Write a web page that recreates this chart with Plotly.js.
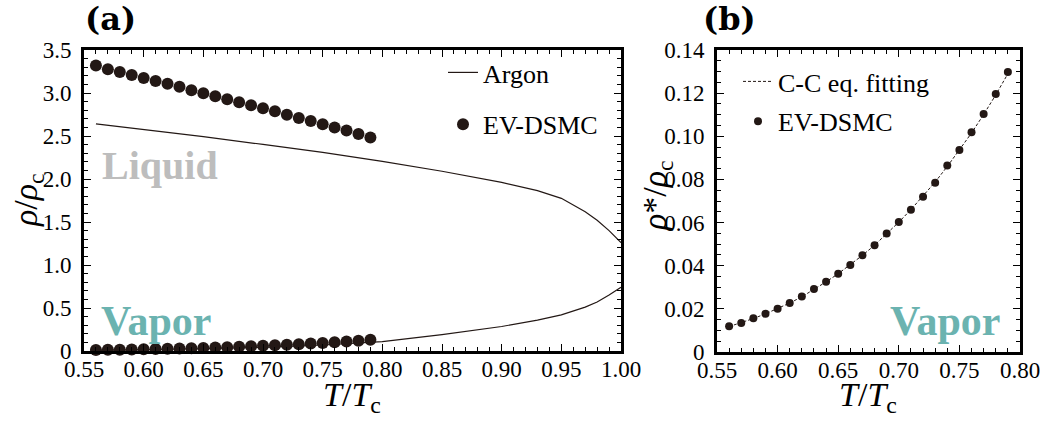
<!DOCTYPE html>
<html>
<head>
<meta charset="utf-8">
<script src="https://cdn.plot.ly/plotly-3.0.1.min.js"></script>
<style>
html,body{margin:0;padding:0;background:#fff;}
#chart{width:1043px;height:423px;}
</style>
</head>
<body>
<div id="chart"></div>
<script>
// ---- data ----
const T_dsmc = [0.56,0.57,0.58,0.59,0.60,0.61,0.62,0.63,0.64,0.65,0.66,0.67,0.68,0.69,0.70,0.71,0.72,0.73,0.74,0.75,0.76,0.77,0.78,0.79];
const rho_liq_dsmc = [3.320,3.275,3.245,3.210,3.175,3.140,3.107,3.072,3.033,2.998,2.963,2.928,2.893,2.858,2.823,2.788,2.746,2.710,2.675,2.637,2.599,2.563,2.523,2.482];
const rho_vap_dsmc = [0.0119,0.0134,0.0156,0.0177,0.0200,0.0227,0.0257,0.0292,0.0326,0.0363,0.0403,0.0449,0.0495,0.0549,0.0603,0.0659,0.0720,0.0785,0.0864,0.0937,0.1019,0.1103,0.1196,0.1298];

const T_argon = [0.56,0.60,0.65,0.70,0.75,0.80,0.85,0.90,0.93,0.95,0.96,0.97,0.98,0.99,1.00];
const rho_liq_argon = [2.640,2.578,2.492,2.402,2.310,2.205,2.090,1.960,1.865,1.775,1.700,1.620,1.520,1.400,1.260];
const rho_vap_argon = [0.008,0.014,0.026,0.043,0.070,0.110,0.190,0.285,0.360,0.420,0.462,0.510,0.570,0.650,0.740];

const T_fit = [0.56,0.57,0.58,0.59,0.60,0.61,0.62,0.63,0.64,0.65,0.66,0.67,0.68,0.69,0.70,0.71,0.72,0.73,0.74,0.75,0.76,0.77,0.78,0.79];
const rho_fit = [0.0118,0.0135,0.0155,0.0177,0.0201,0.0227,0.0256,0.0290,0.0325,0.0363,0.0404,0.0448,0.0495,0.0547,0.0602,0.0660,0.0722,0.0788,0.0860,0.0935,0.1015,0.1101,0.1192,0.1290];

const xTicksA = [0.55,0.60,0.65,0.70,0.75,0.80,0.85,0.90,0.95,1.00];
const xTickTextA = ['0.55','0.60','0.65','0.70','0.75','0.80','0.85','0.90','0.95','1.00'];
const yTicksA = [0,0.5,1.0,1.5,2.0,2.5,3.0,3.5];
const yTickTextA = ['0','0.5','1.0','1.5','2.0','2.5','3.0','3.5'];
const xTicksB = [0.55,0.60,0.65,0.70,0.75,0.80];
const xTickTextB = ['0.55','0.60','0.65','0.70','0.75','0.80'];
const yTicksB = [0,0.02,0.04,0.06,0.08,0.10,0.12,0.14];
const yTickTextB = ['0','0.02','0.04','0.06','0.08','0.10','0.12','0.14'];

// ---- styles ----
const DARK = '#231815';
const SERIF = 'Liberation Serif';
const W = 1043, H = 423;
const px = x => x / W;
const py = y => (H - y) / H;

const traces = [
  {x: T_argon, y: rho_liq_argon, xaxis:'x', yaxis:'y', mode:'lines', name:'Argon',
   line:{color:DARK, width:1.2}, legend:'legend', legendgroup:'a1'},
  {x: T_argon, y: rho_vap_argon, xaxis:'x', yaxis:'y', mode:'lines', showlegend:false,
   line:{color:DARK, width:1.2}, legendgroup:'a1'},
  {x: T_dsmc, y: rho_liq_dsmc, xaxis:'x', yaxis:'y', mode:'markers', name:'EV-DSMC',
   marker:{color:DARK, size:12}, legend:'legend', legendgroup:'a2', cliponaxis:false},
  {x: T_dsmc, y: rho_vap_dsmc, xaxis:'x', yaxis:'y', mode:'markers', showlegend:false,
   marker:{color:DARK, size:12}, legendgroup:'a2', cliponaxis:false},
  {x: T_fit, y: rho_fit, xaxis:'x2', yaxis:'y2', mode:'lines', name:'C-C eq. fitting',
   line:{color:DARK, width:1, dash:'3px,2px'}, legend:'legend2', legendgroup:'b1'},
  {x: T_dsmc, y: rho_vap_dsmc, xaxis:'x2', yaxis:'y2', mode:'markers', name:'EV-DSMC',
   marker:{color:DARK, size:8}, legend:'legend2', legendgroup:'b2', cliponaxis:false}
];

function axis(domain, range, tickvals, ticktext, minorDtick, anchor, standoff) {
  return {
    domain: domain, range: range, anchor: anchor,
    showline:true, linecolor:'#000', linewidth:3, mirror:'ticks',
    ticks:'inside', ticklen:7, tickwidth:1, tickcolor:'#000',
    tickmode:'array', tickvals:tickvals, ticktext:ticktext,
    minor:{ticks:'inside', ticklen:4, tickwidth:1, tickcolor:'#000', dtick:minorDtick, showgrid:false},
    showgrid:false, zeroline:false,
    tickfont:{family:SERIF, size:23, color:'#000'},
    ticklabelstandoff:standoff
  };
}

const layout = {
  width: W, height: H,
  margin:{l:0, r:0, t:0, b:0},
  paper_bgcolor:'#fff', plot_bgcolor:'#fff',
  font:{family:SERIF, color:'#000'},
  showlegend:true,
  xaxis: axis([px(84), px(621)], [0.55, 1.0], xTicksA, xTickTextA, 0.01, 'y', -5),
  yaxis: axis([py(351), py(50)], [0, 3.5], yTicksA, yTickTextA, 0.1, 'x', 5),
  xaxis2: axis([px(717), px(1020)], [0.55, 0.80], xTicksB, xTickTextB, 0.01, 'y2', -5),
  yaxis2: axis([py(352), py(50)], [0, 0.14], yTicksB, yTickTextB, 0.005, 'x2', 5),
  legend: {x: px(443), y: py(49), xanchor:'left', yanchor:'top', bgcolor:'rgba(0,0,0,0)',
           font:{family:SERIF, size:26, color:'#000'}, tracegroupgap:15, traceorder:'grouped'},
  legend2: {x: px(738), y: py(58), xanchor:'left', yanchor:'top', bgcolor:'rgba(0,0,0,0)',
           font:{family:SERIF, size:26, color:'#000'}, tracegroupgap:3, traceorder:'grouped'},
  annotations: [
    {text:'<b>(a)</b>', x:px(110), y:py(19), xref:'paper', yref:'paper', showarrow:false,
     font:{family:'DejaVu Serif', size:32, color:'#000'}, xanchor:'center', yanchor:'middle'},
    {text:'<b>(b)</b>', x:px(729), y:py(19), xref:'paper', yref:'paper', showarrow:false,
     font:{family:'DejaVu Serif', size:32, color:'#000'}, xanchor:'center', yanchor:'middle'},
    {text:'<b>Liquid</b>', x:px(100), y:py(165), xref:'paper', yref:'paper', showarrow:false,
     font:{family:SERIF, size:40, color:'#bdbdbd'}, xanchor:'left', yanchor:'middle'},
    {text:'<b>Vapor</b>', x:px(99), y:py(321), xref:'paper', yref:'paper', showarrow:false,
     font:{family:SERIF, size:42, color:'#6bb3b0'}, xanchor:'left', yanchor:'middle'},
    {text:'<b>Vapor</b>', x:px(945), y:py(321), xref:'paper', yref:'paper', showarrow:false,
     font:{family:SERIF, size:42, color:'#6bb3b0'}, xanchor:'center', yanchor:'middle'},
    {text:'<i>ρ</i>/<i>ρ</i><sub>c</sub>', x:px(28), y:py(200), xref:'paper', yref:'paper', showarrow:false,
     textangle:-90, font:{family:SERIF, size:34, color:'#000'}, xanchor:'center', yanchor:'middle'},
    {text:'<i>ρ</i>*/<i>ρ</i><sub>c</sub>', x:px(657), y:py(196), xref:'paper', yref:'paper', showarrow:false,
     textangle:-90, font:{family:SERIF, size:34, color:'#000'}, xanchor:'center', yanchor:'middle'},
    {text:'<i>T</i>/<i>T</i><sub>c</sub>', x:px(352), y:py(397), xref:'paper', yref:'paper', showarrow:false,
     font:{family:SERIF, size:34, color:'#000'}, xanchor:'center', yanchor:'middle'},
    {text:'<i>T</i>/<i>T</i><sub>c</sub>', x:px(868), y:py(397), xref:'paper', yref:'paper', showarrow:false,
     font:{family:SERIF, size:34, color:'#000'}, xanchor:'center', yanchor:'middle'}
  ]
};

Plotly.newPlot('chart', traces, layout, {staticPlot:true, displayModeBar:false});
</script>
</body>
</html>
